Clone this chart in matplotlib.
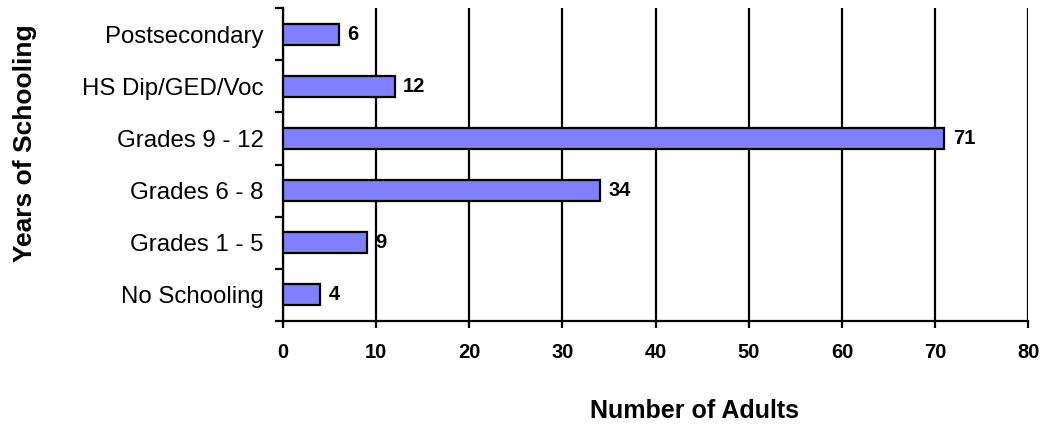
import numpy as np
import matplotlib
matplotlib.use("Agg")
import matplotlib.pyplot as plt

plt.rcParams['font.family'] = ['Liberation Sans', 'DejaVu Sans']

# data, bottom to top as drawn
categories = ['No Schooling', 'Grades 1 - 5', 'Grades 6 - 8',
              'Grades 9 - 12', 'HS Dip/GED/Voc', 'Postsecondary']
adults = [4, 9, 34, 71, 12, 6]
x_ticks = [0, 10, 20, 30, 40, 50, 60, 70, 80]

bar_color = '#8080FF'

fig = plt.figure(figsize=(10.44, 4.28), dpi=100)
ax = fig.add_axes([0.271, 0.25, 0.714, 0.731])

y = np.arange(len(categories))
ax.barh(y, adults, height=0.40, color=bar_color, edgecolor='black',
        linewidth=1.6, zorder=3)

for yi, v in zip(y, adults):
    ax.text(v + 0.9, yi, str(v), va='center', ha='left',
            fontsize=14.5, fontweight='bold', zorder=4)

ax.set_xlim(0, 80)
ax.set_ylim(-0.5, len(categories) - 0.5)
ax.set_xticks(x_ticks)
ax.set_xticklabels([str(t) for t in x_ticks], fontsize=14.5, fontweight='bold')
ax.grid(axis='x', color='black', linewidth=1.6, zorder=0)

# category labels on major ticks, boundary ticks as minor
ax.set_yticks(y)
ax.set_yticklabels(categories, fontsize=17.3)
ax.set_yticks(np.arange(-0.5, len(categories)), minor=True)
ax.tick_params(axis='y', which='major', length=0, pad=14)
ax.tick_params(axis='y', which='minor', length=6, width=1.6, direction='out')
ax.tick_params(axis='x', length=5, width=1.6, direction='out', pad=11)

for side in ['top', 'right']:
    ax.spines[side].set_visible(False)
for side in ['left', 'bottom']:
    ax.spines[side].set_linewidth(1.6)

ax.set_xlabel('Number of Adults', fontsize=18, fontweight='bold')
ax.xaxis.set_label_coords(0.552, -0.248)
ax.set_ylabel('Years of Schooling', fontsize=19, fontweight='bold')
ax.yaxis.set_label_coords(-0.33, 0.569)

fig.savefig('out.png', dpi=100)
